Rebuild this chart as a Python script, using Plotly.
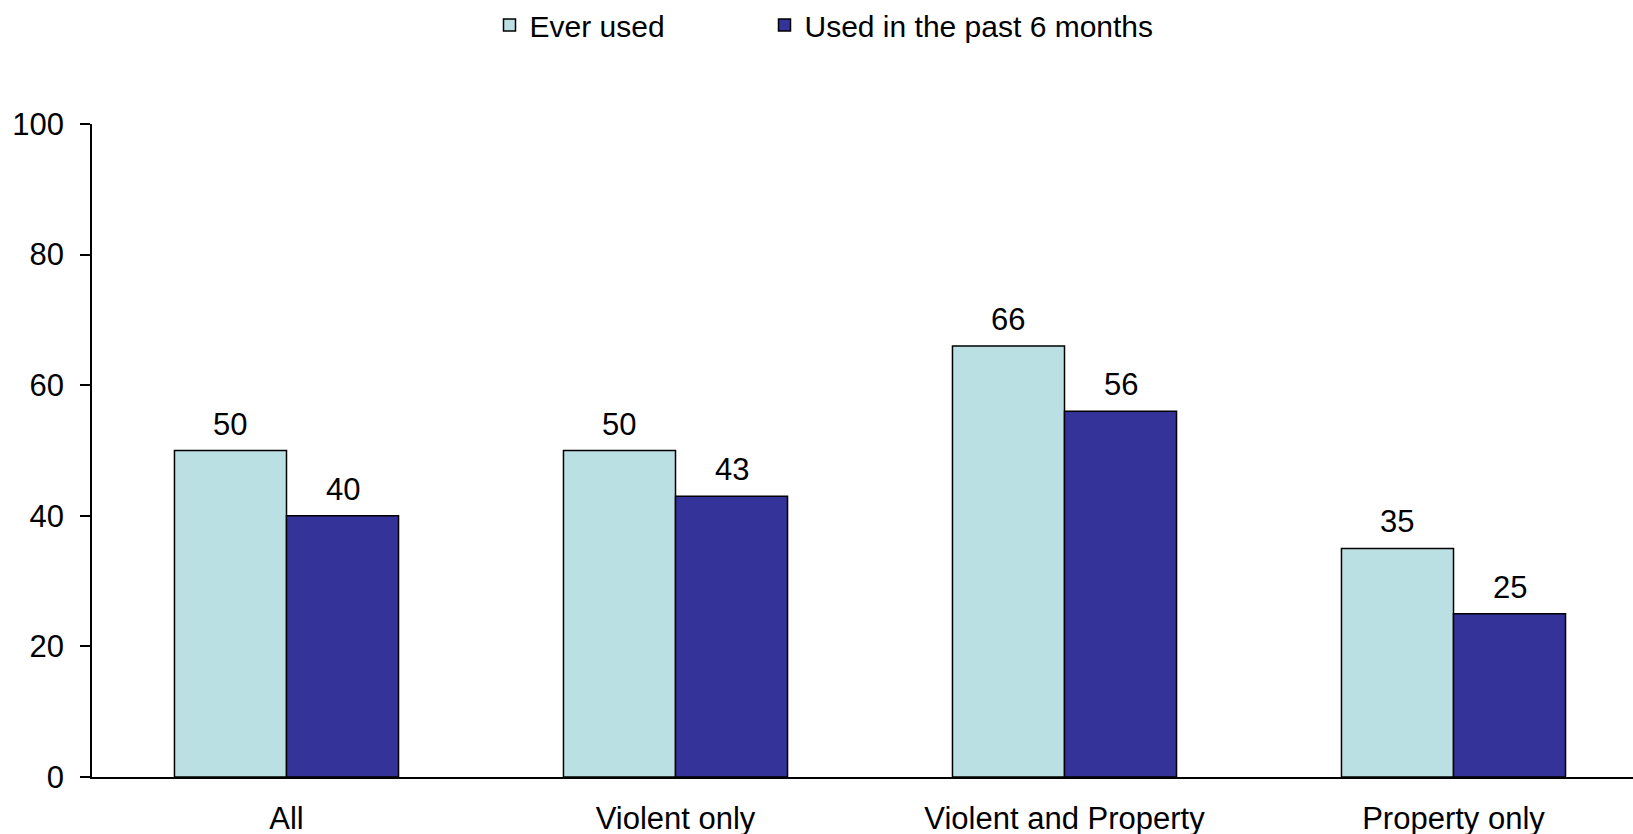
import plotly.graph_objects as go

categories = ["All", "Violent only", "Violent and Property", "Property only"]
ever_used = [50, 50, 66, 35]
past_6_months = [40, 43, 56, 25]
series_names = ["Ever used", "Used in the past 6 months"]
y_ticks = [0, 20, 40, 60, 80, 100]

W, H = 1633, 834
ML, MR, MT, MB = 92, 0, 124, 57
FONT = "Liberation Sans, Arial, sans-serif"
FS = 31
BARGAP = 0.424

fig = go.Figure()
fig.add_trace(go.Bar(x=categories, y=ever_used, name=series_names[0], legend="legend",
                     marker=dict(color="#BAE0E3", line=dict(color="#000000", width=1.5))))
fig.add_trace(go.Bar(x=categories, y=past_6_months, name=series_names[1], legend="legend2",
                     marker=dict(color="#333399", line=dict(color="#000000", width=1.5))))

# value labels above each bar
half = (1 - BARGAP) / 4
annotations = []
for i in range(len(categories)):
    for vals, off in ((ever_used, -half), (past_6_months, half)):
        annotations.append(dict(x=i + off, y=vals[i], xref="x", yref="y",
                                text=str(vals[i]), showarrow=False,
                                yanchor="bottom", yshift=7,
                                font=dict(family=FONT, size=FS, color="#000000")))

plot_w = W - ML - MR
leg_common = dict(orientation="h", xanchor="left", xref="container", yref="container",
                  y=1 - 25 / H, yanchor="middle",
                  font=dict(family=FONT, size=30, color="#000000"),
                  bgcolor="rgba(0,0,0,0)", borderwidth=0)
fig.update_layout(
    width=W, height=H,
    margin=dict(l=ML, r=MR, t=MT, b=MB, pad=0, autoexpand=False),
    paper_bgcolor="white", plot_bgcolor="white",
    barmode="group", bargap=BARGAP, bargroupgap=0,
    font=dict(family=FONT, size=FS, color="#000000"),
    showlegend=True,
    legend=dict(x=489.5 / W, **leg_common),
    legend2=dict(x=764.5 / W, **leg_common),
    annotations=annotations,
    xaxis=dict(type="category", range=[-0.5, -0.5 + plot_w / 389.0],
               showline=True, linecolor="#000000", linewidth=1.5,
               ticks="", showgrid=False, zeroline=False,
               ticklabelstandoff=13,
               tickfont=dict(family=FONT, size=FS)),
    yaxis=dict(range=[0, 100], tickvals=y_ticks, ticktext=[str(v) for v in y_ticks],
               showline=True, linecolor="#000000", linewidth=1.5,
               ticks="outside", ticklen=10, tickwidth=1.5, tickcolor="#000000",
               showgrid=False, zeroline=False, ticklabelstandoff=10,
               tickfont=dict(family=FONT, size=FS)),
)

fig.write_html("out.html", config={"displayModeBar": False},
               post_script="document.body.style.margin='0';document.body.style.overflow='hidden';")
